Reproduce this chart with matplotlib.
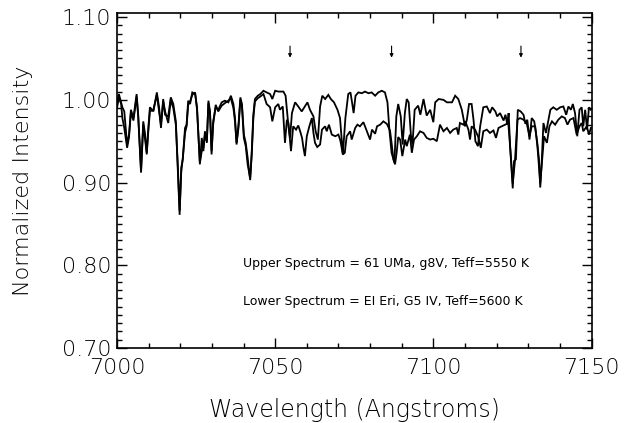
import matplotlib
matplotlib.use("Agg")
import matplotlib.pyplot as plt
from matplotlib.ticker import MultipleLocator, FormatStrFormatter

# ---------------- data ----------------
upper_wl = [7000.0, 7000.6, 7001.3, 7001.7, 7002.3, 7003.2, 7003.8, 7004.4, 7005.2, 7006.2,
            7006.7, 7007.6, 7008.3, 7008.9, 7009.4, 7009.9, 7010.4, 7011.5, 7012.6, 7013.3,
            7013.9, 7014.6, 7015.2, 7016.2, 7017.0, 7017.8, 7018.6, 7019.2, 7019.8, 7020.3,
            7020.8, 7021.5, 7022.0, 7022.5, 7023.1, 7023.8, 7024.7, 7025.3, 7026.2, 7026.8,
            7027.3, 7027.8, 7028.4, 7028.9, 7029.4, 7029.9, 7030.4, 7031.2, 7032.0, 7033.1,
            7034.1, 7035.2, 7036.0, 7036.8, 7037.3, 7037.8, 7038.4, 7039.0, 7039.5, 7040.1,
            7040.7, 7041.3, 7042.1, 7042.6, 7043.1, 7043.6, 7044.5, 7045.3, 7046.3, 7047.3,
            7048.4, 7049.1, 7050.0, 7051.0,
            7051.5, 7052.6, 7053.3, 7054.2, 7054.7, 7055.3, 7056.3, 7057.3, 7058.4, 7059.4,
            7060.2, 7061.0, 7062.1, 7062.8, 7063.5, 7064.2, 7064.9, 7065.8, 7066.8, 7067.6,
            7068.6, 7069.7, 7070.5, 7071.4, 7072.2, 7073.1, 7073.8, 7074.3, 7074.8, 7075.4,
            7076.3, 7077.4, 7078.4, 7079.5, 7080.5, 7081.6, 7082.6, 7083.7, 7084.7, 7085.5,
            7086.1, 7086.8, 7087.7, 7088.3, 7088.9, 7089.7, 7090.3, 7091.0, 7091.6, 7092.2,
            7092.9, 7093.4, 7094.1, 7095.2, 7095.9, 7096.9, 7097.9, 7099.0, 7100.0, 7100.6,
            7101.7, 7103.2, 7104.3, 7105.9, 7106.9, 7107.9, 7109.0, 7110.0, 7110.6, 7111.3,
            7112.1, 7112.7, 7113.3, 7114.1, 7114.8, 7115.8, 7116.9, 7117.9, 7118.6, 7119.6,
            7120.2, 7121.1, 7122.2, 7122.8, 7123.4, 7123.8, 7124.3, 7125.1, 7125.5, 7126.1,
            7126.7, 7127.6, 7128.5, 7129.1, 7129.7, 7130.4, 7131.1, 7131.9, 7132.8, 7133.4,
            7133.8, 7134.3, 7134.8, 7135.6, 7136.4, 7137.0, 7137.9, 7139.0, 7140.1, 7141.1,
            7142.0, 7142.7, 7143.5, 7144.1, 7144.8, 7145.5, 7146.2, 7146.9, 7147.4, 7148.0,
            7148.6, 7149.2, 7149.8]
upper_int = [0.995, 1.007, 0.997, 0.991, 0.986, 0.946, 0.958, 0.988, 0.978, 1.007,
             0.982, 0.914, 0.974, 0.958, 0.934, 0.966, 0.991, 0.986, 1.009, 0.991,
             0.966, 1.001, 0.982, 0.980, 1.003, 0.995, 0.974, 0.918, 0.861, 0.918,
             0.928, 0.966, 0.970, 0.999, 0.995, 1.009, 1.007, 0.991, 0.922, 0.954,
             0.938, 0.962, 0.948, 0.999, 0.986, 0.934, 0.974, 0.991, 0.988, 0.997,
             0.999, 0.997, 1.005, 0.995, 0.978, 0.946, 0.970, 1.003, 0.995, 0.958,
             0.948, 0.930, 0.903, 0.938, 0.982, 1.001, 1.005, 1.007, 1.011, 1.009,
             1.007, 1.001, 1.011, 1.010,
             1.010, 1.010, 1.005, 0.968, 0.954, 0.984, 0.997, 0.992, 0.986, 0.992,
             0.997, 0.988, 0.980, 0.962, 0.952, 0.992, 1.005, 1.001, 1.006, 1.001,
             0.997, 0.988, 0.978, 0.934, 0.978, 1.007, 1.009, 0.997, 0.984, 1.005,
             1.009, 1.008, 1.010, 1.008, 1.009, 1.005, 1.009, 1.011, 1.009, 0.997,
             0.964, 0.936, 0.924, 0.980, 0.995, 0.980, 0.946, 0.984, 1.001, 0.997,
             0.958, 0.946, 0.988, 0.993, 0.982, 1.001, 0.981, 0.988, 0.973, 0.997,
             1.001, 1.000, 0.997, 0.997, 1.005, 1.001, 0.988, 0.968, 0.976, 0.995,
             0.995, 0.976, 0.950, 0.944, 0.968, 0.991, 0.992, 0.984, 0.991, 0.986,
             0.980, 0.984, 0.975, 0.982, 0.970, 0.984, 0.942, 0.893, 0.926, 0.928,
             0.988, 0.986, 0.982, 0.971, 0.976, 0.952, 0.978, 0.974, 0.950, 0.928,
             0.894, 0.928, 0.972, 0.960, 0.976, 0.988, 0.991, 0.988, 0.991, 0.992,
             0.982, 0.992, 0.988, 0.995, 0.984, 0.956, 0.988, 0.991, 0.968, 0.988,
             0.964, 0.991, 0.988]

lower_wl = [7000.0, 7000.6, 7001.3, 7001.7, 7002.3, 7003.2, 7003.8, 7004.4, 7005.2, 7006.2,
            7006.7, 7007.6, 7008.3, 7008.9, 7009.4, 7009.9, 7010.4, 7011.5, 7012.6, 7013.3,
            7013.9, 7014.6, 7015.2, 7016.2, 7017.0, 7017.8, 7018.6, 7019.2, 7019.8, 7020.3,
            7020.8, 7021.5, 7022.0, 7022.5, 7023.1, 7023.8, 7024.7, 7025.3, 7026.2, 7026.8,
            7027.3, 7027.8, 7028.4, 7028.9, 7029.4, 7029.9, 7030.4, 7031.2, 7032.0, 7033.1,
            7034.1, 7035.2, 7036.0, 7036.8, 7037.3, 7037.8, 7038.4, 7039.0, 7039.5, 7040.1,
            7040.7, 7041.3, 7042.1, 7042.6, 7043.1, 7043.6, 7044.5, 7045.3, 7046.3, 7047.3,
            7048.4, 7049.1, 7050.0, 7051.0,
            7051.5, 7052.4, 7053.1, 7053.7, 7054.2, 7055.0, 7055.7, 7056.6, 7057.3, 7057.9,
            7058.5, 7058.9, 7059.4, 7060.0, 7060.8, 7061.6, 7062.1, 7062.6, 7063.3, 7064.2,
            7064.8, 7065.8, 7066.3, 7067.0, 7067.9, 7069.0, 7070.0, 7070.6, 7071.4, 7072.0,
            7072.6, 7073.7, 7074.2, 7075.3, 7076.0, 7076.8, 7077.9, 7079.0, 7080.0, 7080.6,
            7081.6, 7082.2, 7083.2, 7084.2, 7085.3, 7086.3, 7086.8, 7087.4, 7087.9, 7088.4,
            7088.9, 7089.5, 7090.2, 7091.1, 7091.6, 7092.6, 7093.2, 7093.9, 7094.8, 7095.8,
            7096.9, 7097.9, 7099.0, 7100.0, 7101.1, 7102.1, 7103.2, 7104.3, 7105.3, 7106.3,
            7107.4, 7107.9, 7108.4, 7109.5, 7110.1, 7111.1, 7111.6, 7112.1, 7113.2, 7114.2,
            7115.0, 7115.8, 7116.9, 7117.9, 7119.0, 7119.8, 7120.6, 7121.6, 7122.7, 7123.7,
            7124.5, 7125.1, 7125.8, 7126.6, 7127.4, 7128.5, 7129.5, 7130.4, 7131.1, 7132.2,
            7132.9, 7133.8, 7134.5, 7135.0, 7135.9, 7136.7, 7137.5, 7138.5, 7139.5, 7140.6,
            7141.6, 7142.4, 7143.2, 7144.3, 7145.3, 7146.2, 7146.9, 7147.4, 7148.5, 7149.2,
            7149.8]
lower_int = [0.990, 1.003, 0.995, 0.978, 0.966, 0.942, 0.955, 0.985, 0.975, 1.004,
             0.980, 0.912, 0.970, 0.952, 0.936, 0.962, 0.986, 0.988, 1.006, 0.986,
             0.970, 0.998, 0.986, 0.972, 1.000, 0.990, 0.970, 0.922, 0.866, 0.912,
             0.930, 0.960, 0.968, 0.994, 0.998, 1.006, 1.009, 0.988, 0.924, 0.938,
             0.942, 0.958, 0.950, 0.996, 0.984, 0.938, 0.970, 0.994, 0.986, 0.993,
             0.996, 0.999, 1.002, 0.990, 0.974, 0.948, 0.966, 1.000, 0.992, 0.954,
             0.944, 0.922, 0.905, 0.934, 0.978, 0.998, 1.002, 1.004, 1.007, 0.995,
             0.991, 0.974, 0.991, 0.995,
             0.988, 0.992, 0.948, 0.976, 0.972, 0.938, 0.968, 0.964, 0.969, 0.962,
             0.954, 0.943, 0.932, 0.956, 0.968, 0.978, 0.960, 0.948, 0.943, 0.946,
             0.964, 0.968, 0.962, 0.970, 0.958, 0.956, 0.958, 0.951, 0.934, 0.936,
             0.956, 0.962, 0.952, 0.966, 0.970, 0.968, 0.973, 0.962, 0.952, 0.964,
             0.959, 0.968, 0.970, 0.974, 0.971, 0.963, 0.948, 0.928, 0.922, 0.936,
             0.955, 0.952, 0.932, 0.952, 0.944, 0.958, 0.936, 0.952, 0.956, 0.962,
             0.960, 0.954, 0.952, 0.953, 0.950, 0.970, 0.962, 0.966, 0.960, 0.964,
             0.966, 0.958, 0.972, 0.970, 0.974, 0.964, 0.952, 0.968, 0.964, 0.955,
             0.942, 0.962, 0.964, 0.960, 0.963, 0.954, 0.966, 0.968, 0.970, 0.972,
             0.932, 0.899, 0.926, 0.976, 0.978, 0.976, 0.972, 0.956, 0.968, 0.968,
             0.944, 0.899, 0.932, 0.956, 0.948, 0.968, 0.974, 0.970, 0.976, 0.980,
             0.978, 0.970, 0.976, 0.978, 0.958, 0.968, 0.972, 0.962, 0.968, 0.958,
             0.966]

arrow_wl = [7054.7, 7086.8, 7127.7]

upper_label = "Upper Spectrum = 61 UMa, g8V, Teff=5550 K"
lower_label = "Lower Spectrum = EI Eri, G5 IV, Teff=5600 K"

x_ticks = [7000, 7050, 7100, 7150]
y_ticks = [0.70, 0.80, 0.90, 1.00, 1.10]

# ---------------- figure ----------------
W, H = 624, 423
fig = plt.figure(figsize=(W / 100, H / 100), dpi=100)
ax = fig.add_axes([117 / W, 1 - 348 / H, (591.5 - 117) / W, (348 - 13) / H])

ax.plot(upper_wl, upper_int, color="black", lw=1.3, solid_joinstyle="miter")
ax.plot(lower_wl, lower_int, color="black", lw=1.3, solid_joinstyle="miter")

for w in arrow_wl:
    ax.annotate("", xy=(w, 1.051), xytext=(w, 1.065),
                arrowprops=dict(arrowstyle="-|>", lw=0.8, color="black",
                                mutation_scale=5, shrinkA=0, shrinkB=0))

ax.set_xlim(7000, 7150)
ax.set_ylim(0.70, 1.105)

ax.xaxis.set_major_locator(plt.FixedLocator(x_ticks))
ax.xaxis.set_minor_locator(MultipleLocator(10))
ax.yaxis.set_major_locator(plt.FixedLocator(y_ticks))
ax.yaxis.set_minor_locator(MultipleLocator(0.01))
ax.yaxis.set_major_formatter(FormatStrFormatter("%.2f"))

ax.tick_params(which="both", direction="in", top=True, right=True, width=1.0, color="black")
ax.tick_params(which="major", length=7, labelsize=16)
ax.tick_params(axis="x", which="major", pad=7)
ax.tick_params(axis="y", which="major", pad=4)
ax.tick_params(which="minor", length=3.5)
for lab in ax.get_xticklabels() + ax.get_yticklabels():
    lab.set_fontweight("light")
for s in ax.spines.values():
    s.set_linewidth(1.2)

ax.set_xlabel("Wavelength (Angstroms)", fontsize=17, fontweight="light", va="center")
ax.xaxis.set_label_coords(0.5, (348 - 410) / 335)
ax.set_ylabel("Normalized Intensity", fontsize=16, fontweight="light", va="center")
ax.yaxis.set_label_coords((23 - 117) / 474.5, 0.5)

ax.text(7039.8, 0.802, upper_label, fontsize=9.0, va="center", ha="left")
ax.text(7039.8, 0.756, lower_label, fontsize=9.0, va="center", ha="left")

fig.savefig("out.png", dpi=100, facecolor="white")
